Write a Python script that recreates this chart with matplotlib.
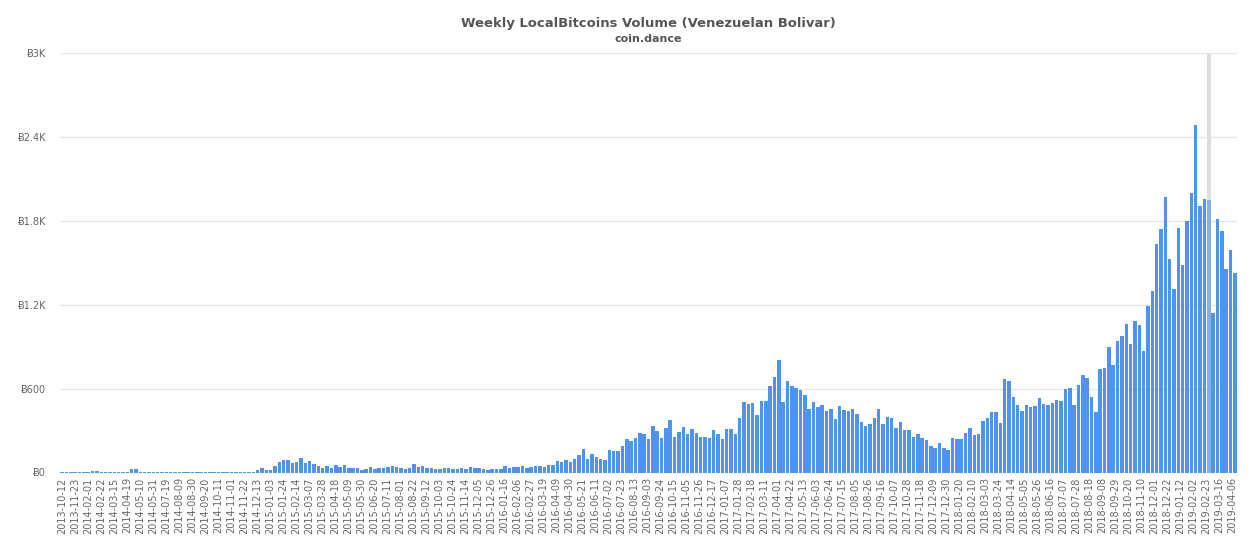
#coding=utf-8
import matplotlib
matplotlib.use('Agg')
import matplotlib.pyplot as plt

# Every third week gets a label
tick_dates = [
    '2013-10-12', '2013-11-23', '2014-02-01', '2014-02-22', '2014-03-15', '2014-04-19', '2014-05-10',
    '2014-05-31', '2014-07-19', '2014-08-09', '2014-08-30', '2014-09-20', '2014-10-11', '2014-11-01',
    '2014-11-22', '2014-12-13', '2015-01-03', '2015-01-24', '2015-02-14', '2015-03-07', '2015-03-28',
    '2015-04-18', '2015-05-09', '2015-05-30', '2015-06-20', '2015-07-11', '2015-08-01', '2015-08-22',
    '2015-09-12', '2015-10-03', '2015-10-24', '2015-11-14', '2015-12-05', '2015-12-26', '2016-01-16',
    '2016-02-06', '2016-02-27', '2016-03-19', '2016-04-09', '2016-04-30', '2016-05-21', '2016-06-11',
    '2016-07-02', '2016-07-23', '2016-08-13', '2016-09-03', '2016-09-24', '2016-10-15', '2016-11-05',
    '2016-11-26', '2016-12-17', '2017-01-07', '2017-01-28', '2017-02-18', '2017-03-11', '2017-04-01',
    '2017-04-22', '2017-05-13', '2017-06-03', '2017-06-24', '2017-07-15', '2017-08-05', '2017-08-26',
    '2017-09-16', '2017-10-07', '2017-10-28', '2017-11-18', '2017-12-09', '2017-12-30', '2018-01-20',
    '2018-02-10', '2018-03-03', '2018-03-24', '2018-04-14', '2018-05-05', '2018-05-26', '2018-06-16',
    '2018-07-07', '2018-07-28', '2018-08-18', '2018-09-08', '2018-09-29', '2018-10-20', '2018-11-10',
    '2018-12-01', '2018-12-22', '2019-01-12', '2019-02-02', '2019-02-23', '2019-03-16', '2019-04-06',
]

# Weekly volume
volume_2013_14 = [
    2, 1, 3, 2, 1, 3, 3, 8, 14, 2, 5, 7, 3, 1, 2, 6, 24, 24, 7, 5, 3, 2, 2, 1, 3, 2, 4, 2, 3, 3,
    4, 5, 3, 2, 4, 3, 2, 2, 3, 4, 4, 5, 4, 5, 7, 17, 31, 21, 21, 45,
]
volume_2015 = [
    74, 88, 88, 67, 74, 102, 67, 81, 60, 45, 29, 45, 31, 55, 36, 55, 29, 29, 31, 21, 24, 38, 24, 31,
    31, 38, 50, 40, 29, 24, 33, 62, 36, 48, 29, 33, 26, 26, 33, 33, 26, 26, 31, 22, 41, 33, 31, 24,
    19, 24, 22, 22,
]
volume_2016 = [
    43, 31, 36, 36, 45, 33, 36, 50, 43, 36, 53, 53, 79, 72, 88, 76, 100, 122, 170, 100, 134, 112, 98,
    86, 158, 155, 151, 189, 241, 225, 244, 280, 272, 241, 332, 294, 249, 315, 375, 256, 292, 325, 277,
    308, 282, 256, 256, 249, 301, 272, 241, 313, 311, 272,
]
volume_2017 = [
    387, 507, 488, 497, 413, 511, 509, 619, 683, 805, 507, 657, 617, 607, 588, 554, 456, 507, 466, 483,
    437, 452, 385, 475, 449, 442, 452, 416, 358, 335, 349, 387, 456, 347, 397, 392, 315, 361, 304, 304,
    251, 277, 244, 234, 191, 174, 213, 177, 158,
]
volume_2018_19 = [
    244, 237, 237, 282, 318, 268, 272, 366, 392, 430, 433, 356, 671, 657, 540, 480, 437, 485, 468, 476,
    530, 490, 480, 495, 521, 509, 597, 605, 485, 624, 700, 676, 538, 430, 743, 748, 899, 767, 937, 979,
    1064, 918, 1081, 1057, 872, 1190, 1298, 1635, 1740, 1973, 1528, 1309, 1745, 1481, 1802, 2002, 2483,
    1909, 1957, 1952, 1143, 1814, 1726, 1455, 1593, 1428,
]
volume = volume_2013_14 + volume_2015 + volume_2016 + volume_2017 + volume_2018_19

ytick_values = [0, 600, 1200, 1800, 2400, 3000]
ytick_labels = ['Ƀ0', 'Ƀ600', 'Ƀ1.2K', 'Ƀ1.8K', 'Ƀ2.4K', 'Ƀ3K']
hover_date = '2019-02-23'

W, H = 1251, 550
TEXT = '#666666'

fig = plt.figure(figsize=(W / 100, H / 100), dpi=100)
ax = fig.add_axes([60 / W, 1 - 472.5 / H, 1177 / W, 419.5 / H])

xs = list(range(len(volume)))
hover = tick_dates.index(hover_date) * 3
colors = ['#4a90ec'] * len(volume)
colors[hover] = '#7fb0f0'

ax.bar([hover], [3000], width=0.8, color='#dddddd', zorder=1)
ax.bar(xs, volume, width=0.8, color=colors, alpha=0.97, zorder=2)

ax.set_xlim(-0.5, len(volume) - 0.5)
ax.set_ylim(0, 3000)
ax.set_yticks(ytick_values)
ax.set_yticklabels(ytick_labels, fontsize=7, color=TEXT)

# The labels run on a slightly tighter step than the bars (13 px against 13.03)
ax.set_xticks([0.1 + i * 2.9933 for i in range(len(tick_dates))])
ax.set_xticklabels(tick_dates, rotation=90, fontsize=7, color=TEXT)

ax.tick_params(axis='both', length=0)
ax.tick_params(axis='x', pad=3.5)
ax.tick_params(axis='y', pad=10)
ax.grid(axis='y', color='#e6e6e6', linewidth=1, zorder=0)
ax.set_axisbelow(True)
for s in ax.spines.values():
    s.set_visible(False)

fig.text(648 / W, 1 - 23 / H, 'Weekly LocalBitcoins Volume (Venezuelan Bolivar)',
         ha='center', va='center', fontsize=9.45, fontweight='bold', color='#555555')
fig.text(648 / W, 1 - 38.5 / H, 'coin.dance',
         ha='center', va='center', fontsize=8, fontweight='bold', color='#555555')

fig.savefig('out.png', dpi=100)
